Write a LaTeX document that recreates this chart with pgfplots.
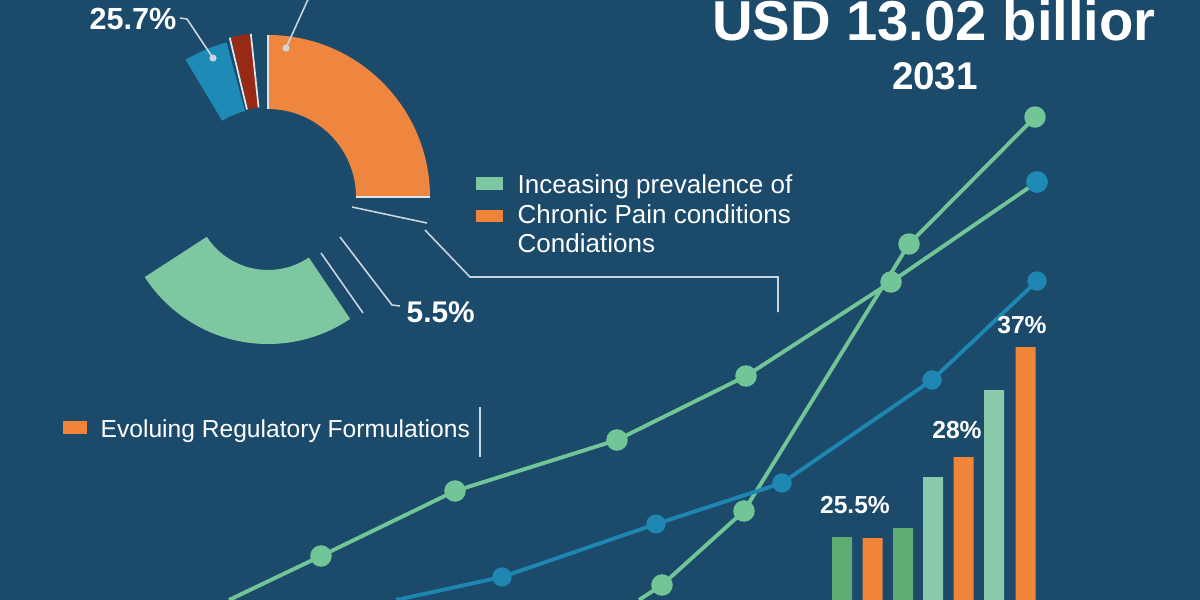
\documentclass[border=0pt]{standalone}
\usepackage{pgfplots}
\pgfplotsset{compat=1.18}
\usepackage{fontspec}
\setmainfont{Liberation Sans}
\definecolor{bg}{HTML}{1B4A6B}
\definecolor{mint}{HTML}{72C597}
\definecolor{lblue}{HTML}{1D87B2}
\definecolor{dorange}{HTML}{EE8640}
\definecolor{dblue}{HTML}{1E8AB6}
\definecolor{dred}{HTML}{962A14}
\definecolor{dgreen}{HTML}{7EC8A1}
\definecolor{bgreen}{HTML}{5EAB74}
\definecolor{bmint}{HTML}{8ACBAE}
\definecolor{borange}{HTML}{F0853A}
\definecolor{leader}{HTML}{C9D6DE}
\newcommand{\seg}[5]{% color, a1, a2, R, r  (px = 0.1mm)
  \fill[#1] ([shift={(#2:#4*0.1mm)}]axis cs:268,403) arc[start angle=#2,end angle=#3,radius=#4*0.1mm]
   -- ([shift={(#3:#5*0.1mm)}]axis cs:268,403) arc[start angle=#3,end angle=#2,radius=#5*0.1mm] -- cycle;}
\begin{document}
\begin{tikzpicture}
\useasboundingbox (0,0) rectangle (12,6);
\fill[bg] (0,0) rectangle (12,6);
\begin{axis}[at={(0,0)},anchor=south west,scale only axis,width=12cm,height=6cm,
  axis lines=none,xmin=0,xmax=1200,ymin=0,ymax=600,clip=true]
% donut
\seg{dorange}{0}{90}{162}{88}
\seg{dred}{96}{103}{164}{90}
\seg{dblue}{105}{121}{160}{89}
\seg{dgreen}{213}{304}{147}{73}
\draw[white!85!bg,line width=0.5pt] ([shift={(90:88*0.1mm)}]axis cs:268,403) -- ([shift={(90:162*0.1mm)}]axis cs:268,403);
\draw[white!85!bg,line width=0.5pt] ([shift={(0:88*0.1mm)}]axis cs:268,403) -- ([shift={(0:162*0.1mm)}]axis cs:268,403);
\draw[white!85!bg,line width=0.5pt] ([shift={(96:90*0.1mm)}]axis cs:268,403) -- ([shift={(96:164*0.1mm)}]axis cs:268,403);
\draw[white!85!bg,line width=0.5pt] ([shift={(103.5:90*0.1mm)}]axis cs:268,403) -- ([shift={(103.5:164*0.1mm)}]axis cs:268,403);
% leader lines
\draw[leader,line width=0.45pt] (axis cs:180,582) -- (axis cs:187,581) -- (axis cs:213,542);
\draw[leader,line width=0.45pt] (axis cs:310,605) -- (axis cs:286,552);
\draw[leader,line width=0.45pt] (axis cs:352,393) -- (axis cs:427,377);
\draw[leader,line width=0.45pt] (axis cs:425,370) -- (axis cs:470,323) -- (axis cs:778,323) -- (axis cs:778,288);
\draw[leader,line width=0.45pt] (axis cs:321,347) -- (axis cs:363,287);
\draw[leader,line width=0.45pt] (axis cs:340,363) -- (axis cs:392,295) -- (axis cs:400,294);
\draw[leader,line width=0.5pt] (axis cs:480,193) -- (axis cs:480,143);
\addplot[only marks,mark=*,mark size=0.8pt,color=leader] coordinates {(213,542) (286,552)};
% bars
\addplot[ybar,bar width=2mm,bar shift=0pt,fill=bgreen,draw=none] coordinates {(842,63) (903,72)};
\addplot[ybar,bar width=2mm,bar shift=0pt,fill=borange,draw=none] coordinates {(872.5,62) (963.5,143) (1025.5,253)};
\addplot[ybar,bar width=2mm,bar shift=0pt,fill=bmint,draw=none] coordinates {(933,123) (994,210)};
% lines
\addplot[mint,line width=1.1pt,mark=*,mark size=2.5pt,mark indices={2,3,4,5,6}] coordinates {(229,0) (321,44) (455,109) (617,160) (746,224) (891,318) (1037,418)};
\addplot[mint,line width=1.1pt,mark=*,mark size=2.5pt,mark indices={2,3,4,5}] coordinates {(639,0) (662,15) (744,89) (909,356) (1035,483)};
\addplot[lblue,line width=1.1pt,mark=*,mark size=2.2pt,mark indices={2,3,4,5,6}] coordinates {(396,0) (502,23) (656,76) (782,117) (932,220) (1037,319)};
\addplot[only marks,mark=*,mark size=2.9pt,color=dblue] coordinates {(1037,418)};
% texts
\node[anchor=base,text=white,font=\bfseries\fontsize{16}{16}\selectfont] at (axis cs:934,560) {USD 13.02 billior};
\node[anchor=base,text=white,font=\bfseries\fontsize{11}{11}\selectfont] at (axis cs:935,511) {2031};
\fill[dgreen] (axis cs:476,410) rectangle (axis cs:503,423);
\fill[borange] (axis cs:476,378) rectangle (axis cs:503,390);
\node[anchor=base west,inner sep=0pt,text=white,font=\fontsize{7.4}{7.4}\selectfont] at (axis cs:517,407) {Inceasing prevalence of};
\node[anchor=base west,inner sep=0pt,text=white,font=\fontsize{7.4}{7.4}\selectfont] at (axis cs:517,377) {Chronic Pain conditions};
\node[anchor=base west,inner sep=0pt,text=white,font=\fontsize{7.4}{7.4}\selectfont] at (axis cs:517,348) {Condiations};
\fill[borange] (axis cs:63,166) rectangle (axis cs:87,179);
\node[anchor=base west,inner sep=0pt,text=white,font=\fontsize{7}{7}\selectfont] at (axis cs:100,163) {Evoluing Regulatory Formulations};
\node[anchor=base,inner sep=0pt,text=white,font=\bfseries\fontsize{8.7}{8.7}\selectfont] at (axis cs:133,571) {25.7\%};
\node[anchor=base west,inner sep=0pt,text=white,font=\bfseries\fontsize{8.5}{8.5}\selectfont] at (axis cs:406,278) {5.5\%};
\node[anchor=base,inner sep=0pt,text=white,font=\bfseries\fontsize{7}{7}\selectfont] at (axis cs:855,87) {25.5\%};
\node[anchor=base,inner sep=0pt,text=white,font=\bfseries\fontsize{7}{7}\selectfont] at (axis cs:957,162) {28\%};
\node[anchor=base,inner sep=0pt,text=white,font=\bfseries\fontsize{7}{7}\selectfont] at (axis cs:1022,267) {37\%};
\end{axis}
\end{tikzpicture}
\end{document}
